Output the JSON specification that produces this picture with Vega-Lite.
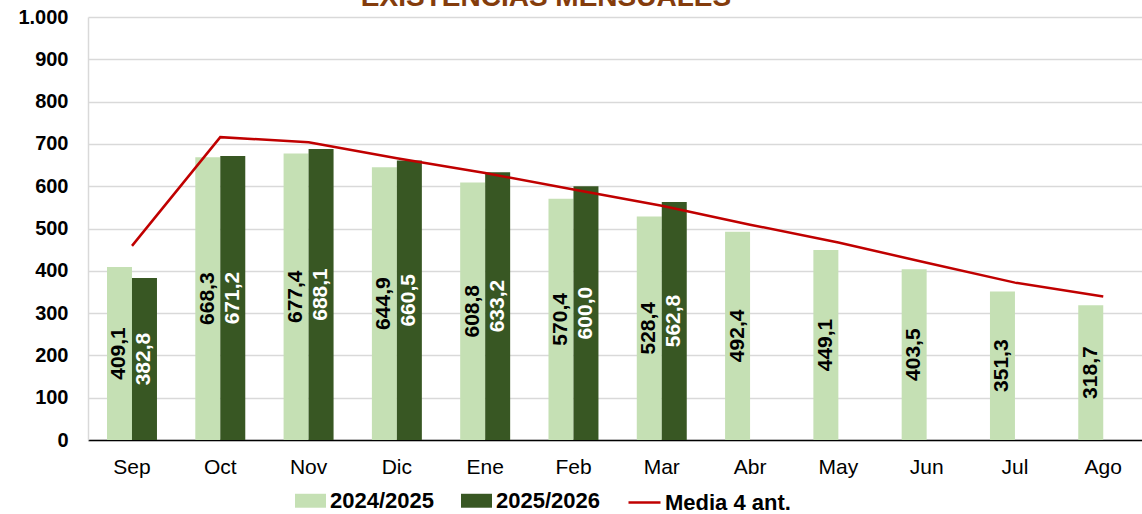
{
  "$schema": "https://vega.github.io/schema/vega-lite/v6.json",
  "width": 1054,
  "height": 423,
  "autosize": {"type": "none"},
  "padding": {"left": 88, "top": 17, "right": 0, "bottom": 74},
  "background": "white",
  "title": {
    "text": "EXISTENCIAS MENSUALES",
    "color": "#843C0C",
    "font": "Liberation Sans",
    "fontSize": 28,
    "fontWeight": "bold",
    "anchor": "middle",
    "frame": "group",
    "dx": -69,
    "dy": 27,
    "baseline": "alphabetic",
    "offset": 0
  },
  "datasets": {
    "bars": [
      {"mes": "Sep", "serie": "2024/2025", "valor": 409.1},
      {"mes": "Oct", "serie": "2024/2025", "valor": 668.3},
      {"mes": "Nov", "serie": "2024/2025", "valor": 677.4},
      {"mes": "Dic", "serie": "2024/2025", "valor": 644.9},
      {"mes": "Ene", "serie": "2024/2025", "valor": 608.8},
      {"mes": "Feb", "serie": "2024/2025", "valor": 570.4},
      {"mes": "Mar", "serie": "2024/2025", "valor": 528.4},
      {"mes": "Abr", "serie": "2024/2025", "valor": 492.4},
      {"mes": "May", "serie": "2024/2025", "valor": 449.1},
      {"mes": "Jun", "serie": "2024/2025", "valor": 403.5},
      {"mes": "Jul", "serie": "2024/2025", "valor": 351.3},
      {"mes": "Ago", "serie": "2024/2025", "valor": 318.7},
      {"mes": "Sep", "serie": "2025/2026", "valor": 382.8},
      {"mes": "Oct", "serie": "2025/2026", "valor": 671.2},
      {"mes": "Nov", "serie": "2025/2026", "valor": 688.1},
      {"mes": "Dic", "serie": "2025/2026", "valor": 660.5},
      {"mes": "Ene", "serie": "2025/2026", "valor": 633.2},
      {"mes": "Feb", "serie": "2025/2026", "valor": 600.0},
      {"mes": "Mar", "serie": "2025/2026", "valor": 562.8}
    ],
    "media": [
      {"mes": "Sep", "media": 459},
      {"mes": "Oct", "media": 716},
      {"mes": "Nov", "media": 704},
      {"mes": "Dic", "media": 666},
      {"mes": "Ene", "media": 631},
      {"mes": "Feb", "media": 592},
      {"mes": "Mar", "media": 554},
      {"mes": "Abr", "media": 509},
      {"mes": "May", "media": 467},
      {"mes": "Jun", "media": 419},
      {"mes": "Jul", "media": 372},
      {"mes": "Ago", "media": 339}
    ]
  },
  "encoding": {
    "x": {
      "field": "mes",
      "type": "nominal",
      "sort": ["Sep","Oct","Nov","Dic","Ene","Feb","Mar","Abr","May","Jun","Jul","Ago"],
      "scale": {"paddingInner": 0.434, "paddingOuter": 0.1855, "align": 0.58},
      "axis": {
        "title": null,
        "labelAngle": 0,
        "labelFont": "Liberation Sans",
        "labelFontSize": 21,
        "labelColor": "#000000",
        "labelPadding": 16,
        "ticks": false,
        "domainColor": "#000000",
        "domainWidth": 1.5,
        "grid": false
      }
    }
  },
  "layer": [
    {
      "data": {"name": "bars"},
      "mark": {"type": "bar"},
      "encoding": {
        "xOffset": {"field": "serie", "type": "nominal", "scale": {"paddingInner": 0, "paddingOuter": 0}},
        "y": {
          "field": "valor",
          "type": "quantitative",
          "scale": {"domain": [0, 1000], "nice": false},
          "axis": {
            "title": null,
            "values": [0,100,200,300,400,500,600,700,800,900,1000],
            "labelExpr": "datum.value >= 1000 ? '1.000' : datum.value + ''",
            "labelFont": "Liberation Sans",
            "labelFontSize": 20,
            "labelFontWeight": "bold",
            "labelColor": "#000000",
            "labelPadding": 20,
            "ticks": false,
            "domainColor": "#D9D9D9",
            "domainWidth": 1.5,
            "gridColor": "#D9D9D9",
            "gridWidth": 1.5
          }
        },
        "fill": {
          "field": "serie",
          "type": "nominal",
          "scale": {"domain": ["2024/2025", "2025/2026"], "range": ["#C5E0B4", "#385723"]},
          "legend": {
            "title": null,
            "orient": "none",
            "direction": "horizontal",
            "legendX": 207,
            "legendY": 468,
            "symbolType": "M-1,-0.45H1V0.45H-1Z",
            "symbolSize": 961,
            "symbolStrokeWidth": 0,
            "labelFont": "Liberation Sans",
            "labelFontSize": 22,
            "labelFontWeight": "bold",
            "labelColor": "#000000",
            "labelOffset": 4,
            "columnPadding": 27,
            "padding": 0
          }
        }
      }
    },
    {
      "data": {"name": "bars"},
      "transform": [
        {"calculate": "replace(format(datum.valor, '.1f'), '.', ',')", "as": "etiqueta"},
        {"calculate": "datum.valor / 2", "as": "centro"}
      ],
      "mark": {"type": "text", "angle": 270, "align": "center", "baseline": "middle", "font": "Liberation Sans", "fontSize": 21, "fontWeight": "bold"},
      "encoding": {
        "xOffset": {"field": "serie", "type": "nominal", "scale": {"paddingInner": 0, "paddingOuter": 0}},
        "y": {"field": "centro", "type": "quantitative", "scale": {"domain": [0, 1000], "nice": false}},
        "text": {"field": "etiqueta", "type": "nominal"},
        "color": {"condition": {"test": "datum.serie == '2025/2026'", "value": "#FFFFFF"}, "value": "#000000"}
      }
    },
    {
      "data": {"name": "media"},
      "mark": {"type": "line", "strokeWidth": 2.5},
      "encoding": {
        "y": {"field": "media", "type": "quantitative"},
        "stroke": {
          "datum": "Media 4 ant.",
          "type": "nominal",
          "scale": {"range": ["#C00000"]},
          "legend": {
            "title": null,
            "orient": "none",
            "direction": "horizontal",
            "legendX": 539,
            "legendY": 468,
            "symbolType": "stroke",
            "symbolSize": 1024,
            "symbolStrokeWidth": 2.5,
            "labelFont": "Liberation Sans",
            "labelFontSize": 22,
            "labelFontWeight": "bold",
            "labelColor": "#000000",
            "labelOffset": 3,
            "padding": 0
          }
        }
      }
    }
  ],
  "config": {
    "view": {"stroke": null},
    "font": "Liberation Sans"
  }
}
